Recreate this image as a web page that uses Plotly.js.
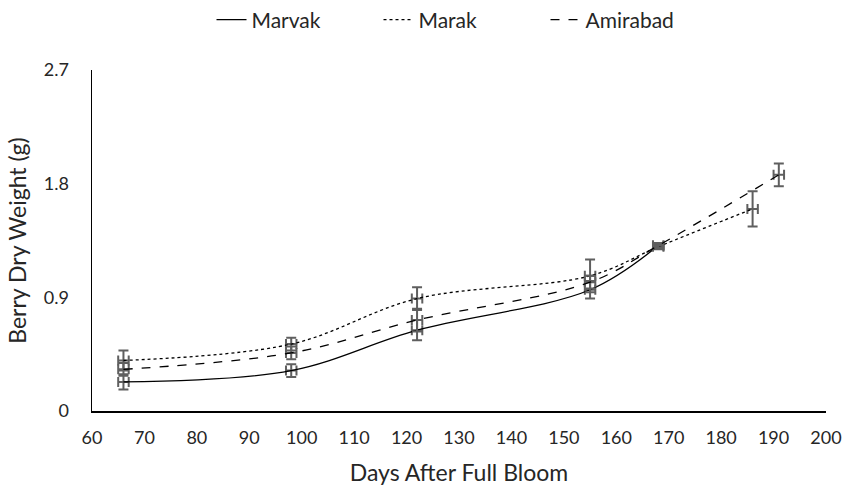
<!DOCTYPE html>
<html>
<head>
<meta charset="utf-8">
<script src="https://cdn.plot.ly/plotly-3.0.1.min.js"></script>
<style>html,body{margin:0;padding:0;background:#fff;}#chart{width:844px;height:488px;}</style>
</head>
<body>
<div id="chart"></div>
<script>
// Days after full bloom and berry dry weight (g), with errors
const marvakDays = [66, 98, 122, 155, 168];
const marvakWeight = [0.23, 0.32, 0.64, 0.96, 1.31];
const marvakErr = [0.06, 0.05, 0.08, 0.07, 0.02];

const marakDays = [66, 98, 122, 155, 168, 186];
const marakWeight = [0.40, 0.53, 0.89, 1.07, 1.30, 1.60];
const marakErr = [0.08, 0.05, 0.09, 0.13, 0.02, 0.14];

const amirabadDays = [66, 98, 122, 155, 168, 191];
const amirabadWeight = [0.33, 0.46, 0.72, 1.02, 1.31, 1.87];
const amirabadErr = [0.05, 0.05, 0.09, 0.05, 0.02, 0.09];

const dayErr = 1;
const xTicks = [60, 70, 80, 90, 100, 110, 120, 130, 140, 150, 160, 170, 180, 190, 200];
const yTicks = [0, 0.9, 1.8, 2.7];

const errColor = '#5f5f5f';
function mk(name, x, y, e, dash) {
  return {
    type: 'scatter', mode: 'lines', name: name, x: x, y: y,
    line: {color: '#000000', width: 1.3, dash: dash, shape: 'spline', smoothing: 1},
    error_y: {type: 'data', array: e, visible: true, color: errColor, thickness: 2, width: 5},
    error_x: {type: 'data', array: x.map(() => dayErr), visible: true, color: errColor, thickness: 2, width: 5}
  };
}
const data = [
  mk('Marvak', marvakDays, marvakWeight, marvakErr, 'solid'),
  mk('Marak', marakDays, marakWeight, marakErr, 'dot'),
  mk('Amirabad', amirabadDays, amirabadWeight, amirabadErr, 'dash')
];
const font = {family: 'Lato, "Open Sans", sans-serif', color: '#262626', size: 18};
const layout = {
  width: 844, height: 488,
  margin: {l: 92, r: 18, t: 70, b: 77, autoexpand: false},
  paper_bgcolor: '#fff', plot_bgcolor: '#fff',
  font: font,
  showlegend: true,
  legend: {orientation: 'h', x: 0.5 + 40 / 844, xref: 'container', xanchor: 'center',
           y: 1 - 20 / 488, yref: 'container', yanchor: 'middle',
           font: {size: 21}, entrywidth: 122, entrywidthmode: 'pixels'},
  xaxis: {
    range: [60, 200], tickvals: xTicks, ticktext: xTicks.map(String),
    showgrid: false, zeroline: false, showline: true, linecolor: '#000', linewidth: 1.5,
    ticks: '', tickfont: {size: 18}, ticklabelstandoff: 10,
    title: {text: 'Days After Full Bloom', font: {size: 23}, standoff: 18}
  },
  yaxis: {
    range: [0, 2.7], tickvals: yTicks, ticktext: ['0', '0.9', '1.8', '2.7'],
    showgrid: false, zeroline: false, showline: true, linecolor: '#000', linewidth: 1.5,
    ticks: '', tickfont: {size: 18}, ticklabelstandoff: 18,
    title: {text: 'Berry Dry Weight (g)', font: {size: 23}, standoff: 10}
  }
};
Plotly.newPlot('chart', data, layout, {displayModeBar: false, staticPlot: true});
</script>
</body>
</html>
